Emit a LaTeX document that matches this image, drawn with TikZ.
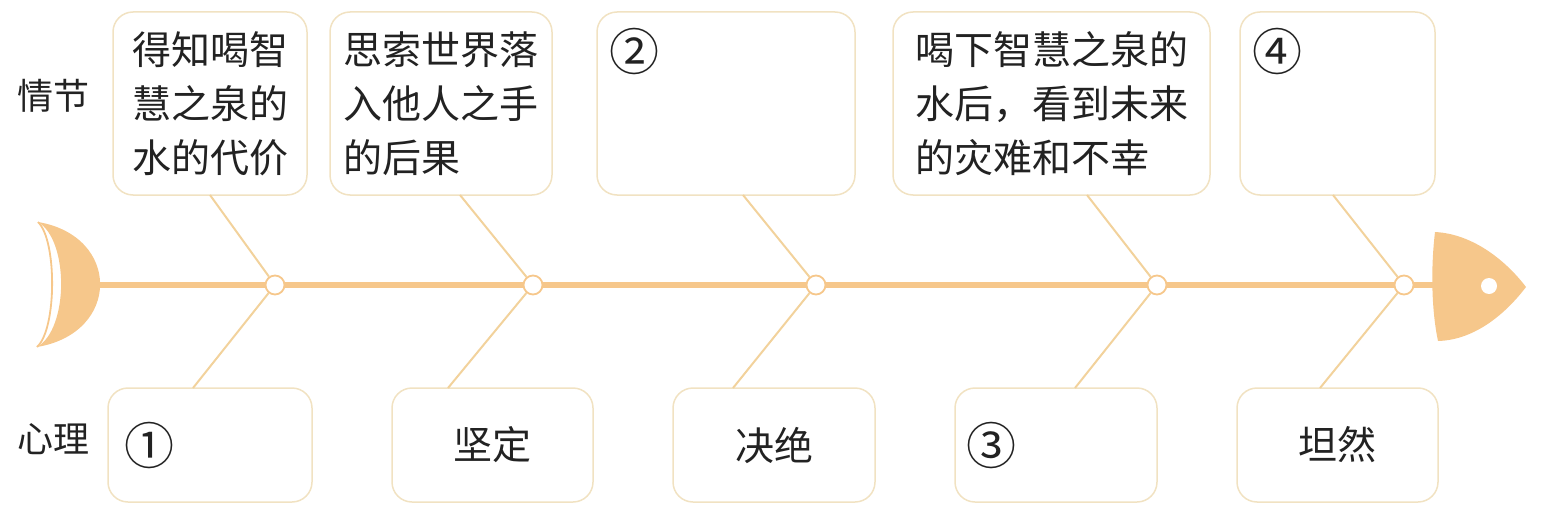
\documentclass[tikz,border=0pt]{standalone}
\usepackage{fontspec}
\newfontfamily\cjk{Noto Sans CJK SC}
\usepackage{xcolor}
\definecolor{fishorange}{HTML}{F6C78B}
\definecolor{boneline}{HTML}{F2D29C}
\definecolor{boxedge}{HTML}{F1E2C2}
\definecolor{inkgray}{HTML}{222222}
\newcommand{\blanknum}[1]{{\fontsize{50pt}{54pt}\selectfont #1}}
\tikzset{
  topbox/.style={
    rounded corners=20pt,
    draw=boxedge,
    fill=white,
    line width=1.5pt,
    minimum width=#1,
    minimum height=183pt,
    inner sep=0pt,
    align=left,
    text=inkgray,
    font=\cjk\fontsize{39pt}{54pt}\selectfont
  },
  lowbox/.style={
    rounded corners=20pt,
    draw=boxedge,
    fill=white,
    line width=1.5pt,
    minimum width=#1,
    minimum height=114pt,
    inner sep=0pt,
    text=inkgray,
    font=\cjk\fontsize{39pt}{54pt}\selectfont
  },
  rowlabel/.style={
    inner sep=0pt,
    text=inkgray,
    font=\cjk\fontsize{36pt}{40pt}\selectfont
  },
  joint/.style={
    circle,
    draw=fishorange,
    fill=white,
    line width=1.8pt,
    minimum size=19pt,
    inner sep=0pt
  },
  bone/.style={draw=boneline, line width=2pt},
  spine/.style={draw=fishorange, line width=6pt}
}
\begin{document}
\begin{tikzpicture}[x=1pt, y=-1pt]
\useasboundingbox (0,0) rectangle (1541,508);
\node[rowlabel] (plot) at (53,96) {情节};
\node[rowlabel] (mind) at (53,439) {心理};
\node[topbox=194pt] (top1) at (210,103.5) {得知喝智\\慧之泉的\\水的代价};
\node[topbox=222pt] (top2) at (441,103.5) {思索世界落\\入他人之手\\的后果};
\node[topbox=258pt, text width=234pt] (top3) at (726,103.5) {\blanknum{②}\\\mbox{}\\\mbox{}};
\node[topbox=317pt] (top4) at (1051.5,103.5) {喝下智慧之泉的\\水后，看到未来\\的灾难和不幸};
\node[topbox=195pt, text width=171pt] (top5) at (1337.5,103.5) {\blanknum{④}\\\mbox{}\\\mbox{}};
\node[lowbox=204pt, text width=172pt, align=left] (low1) at (210,445) {\blanknum{①}};
\node[lowbox=201pt] (low2) at (492.5,445) {坚定};
\node[lowbox=202pt] (low3) at (774,445) {决绝};
\node[lowbox=202pt, text width=180pt, align=left] (low4) at (1056,445) {\blanknum{③}};
\node[lowbox=201pt] (low5) at (1337.5,445) {坦然};
\fill[fishorange] (38,222) .. controls (121,236) and (121,333) .. (37,347)
  .. controls (69,329) and (69,240) .. cycle;
\draw[fishorange, line width=1.8pt] (38,222) .. controls (57,240) and (57,329) .. (37,347);
\coordinate (tail) at (98,285);
\coordinate (head) at (1437,285);
\draw[spine] (tail) -- (head);
\fill[fishorange] (1435,232) .. controls (1474,234) and (1507,262) .. (1526,287)
  .. controls (1507,312) and (1476,340) .. (1438,341)
  .. controls (1431,308) and (1431,265) .. cycle;
\fill[white] (1489,286) circle[radius=8];
\foreach \n/\jx/\ux/\dx in {1/275/210/193, 2/533/460/448, 3/816/743/733, 4/1157/1087/1075, 5/1404/1333/1320}{
  \coordinate (u\n) at (\ux,195);
  \coordinate (d\n) at (\dx,388);
  \node[joint] (j\n) at (\jx,285) {};
  \draw[bone] (u\n) -- (j\n);
  \draw[bone] (j\n) -- (d\n);
}
\end{tikzpicture}
\end{document}
